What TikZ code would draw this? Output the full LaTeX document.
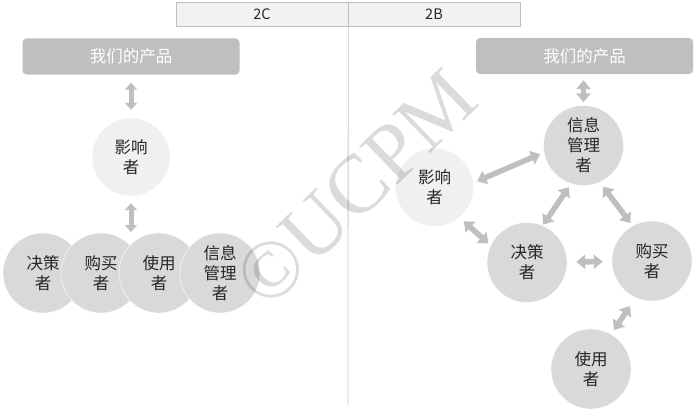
\documentclass[tikz,border=0pt]{standalone}
\usepackage{fontspec}
\setmainfont{Noto Sans CJK SC}
\newfontfamily\wmfont{Liberation Serif}
\usetikzlibrary{arrows.meta}
\definecolor{boxgray}{HTML}{BFBFBF}
\definecolor{circgray}{HTML}{D9D9D9}
\definecolor{lightc}{HTML}{F0F0F0}
\definecolor{hdrfill}{HTML}{F2F2F2}
\definecolor{linegray}{HTML}{C8C8C8}
\tikzset{
  hdr/.style={draw=boxgray, fill=hdrfill, minimum width=172pt, minimum height=24pt, inner sep=0pt, font=\fontsize{14.5}{16}\selectfont, text=black!85},
  prod/.style={fill=boxgray, rounded corners=4pt, minimum width=217pt, minimum height=36pt, inner sep=0pt, text=white, font=\fontsize{16.5}{18}\selectfont},
  gcirc/.style={circle, fill=circgray, draw=white, line width=0.4pt, minimum size=80pt, inner sep=0pt, align=center, font=\fontsize{16.5}{20}\selectfont, text=black!85},
  lcirc/.style={gcirc, fill=lightc, minimum size=78pt},
  dbl/.style={draw=boxgray, line width=5pt, {Triangle[width=12pt,length=7pt]}-{Triangle[width=12pt,length=7pt]}},
  dblr/.style={draw=boxgray, line width=5.5pt, {Triangle[width=14pt,length=9pt]}-{Triangle[width=14pt,length=9pt]}},
  divider/.style={draw=linegray, line width=0.8pt},
  watermark/.style={rotate=44, text=black, text opacity=0.14, font=\wmfont\fontsize{83}{83}\selectfont, inner sep=0pt}
}
\begin{document}
\begin{tikzpicture}[x=1pt,y=-1pt]
\useasboundingbox (0,0) rectangle (700,412);
\fill[white] (0,0) rectangle (700,412);
% header
\node[hdr] (h2c) at (262,14) {2C};
\node[hdr] (h2b) at (434,14) {2B};
\coordinate (divend) at (348,405);
\draw[divider] (h2c.south east) -- (divend);
% left side
\node[prod] (lp) at (131,56.5) {我们的产品};
\node[lcirc] (linf) at (131,157) {影响\\者};
\node[gcirc] (ljc) at (43,273) {决策\\者};
\node[gcirc] (lgm) at (101,273) {购买\\者};
\node[gcirc] (lsy) at (159,273) {使用\\者};
\node[gcirc] (lxx) at (220,273) {信息\\管理\\者};
\coordinate (lrow) at (131,232);
\draw[dbl, shorten <=8pt, shorten >=8pt] (lp) -- (linf);
\draw[dbl, shorten <=7pt] (linf) -- (lrow);
% right side
\node[prod] (rp) at (584.5,56) {我们的产品};
\node[gcirc] (rinfo) at (583.5,145.5) {信息\\管理\\者};
\node[lcirc] (rinf) at (434.5,187.5) {影响\\者};
\node[gcirc] (rjc) at (527,262.5) {决策\\者};
\node[gcirc] (rgm) at (652,261) {购买\\者};
\node[gcirc] (rsy) at (591,369) {使用\\者};
\draw[dblr, shorten <=6pt, shorten >=3pt] (rinfo.north |- rp.south) -- (rinfo.north);
\draw[dblr, shorten <=4pt, shorten >=4pt] (rinf.7) -- (rinfo.190);
\draw[dblr, shorten <=4pt, shorten >=1pt] (rinfo.252) -- (rjc.67);
\draw[dblr, shorten <=5.5pt, shorten >=3.5pt] (rinfo.294) -- (rgm.119);
\draw[dblr, shorten <=5.5pt, shorten >=3pt] (rinf.310) -- (rjc.155);
\draw[dblr, shorten <=9pt, shorten >=9pt] (rjc) -- (rgm);
\draw[dblr, shorten <=10pt, shorten >=5pt] (rgm.246) -- (rsy.60);
% watermark
\node[watermark] (wm) at (355.5,188) {©UCPM};
\end{tikzpicture}
\end{document}
